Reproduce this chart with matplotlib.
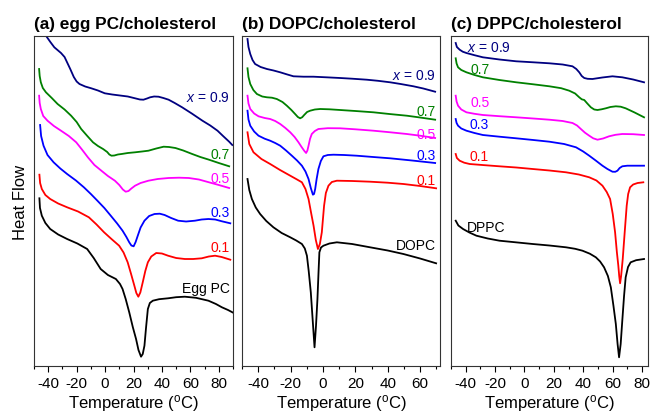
import numpy as np
import matplotlib
matplotlib.use("Agg")
import matplotlib.pyplot as plt
from matplotlib.ticker import MultipleLocator

plt.rcParams['font.family'] = ['Liberation Sans', 'DejaVu Sans']
plt.rcParams['mathtext.fontset'] = 'custom'
plt.rcParams['mathtext.rm'] = 'Liberation Sans'
plt.rcParams['mathtext.it'] = 'Liberation Sans:italic'
plt.rcParams['axes.unicode_minus'] = False

# DSC thermograms, (temperature degC, heat flow arb. units, curves offset)
# (a) egg PC / cholesterol
egg_09 = [(-46, 336), (-43.5, 333), (-41.6, 330.3), (-38.5, 324), (-35.7, 318.7), (-31, 313), (-28.5, 309),
          (-26.5, 303), (-24.5, 297), (-22, 289), (-20, 284.5), (-18, 282), (-14, 279.5), (-9.7, 277.7),
          (-5, 275.5), (-0.2, 272.7), (5, 271.5), (11.6, 270.3), (16, 269.5), (21.1, 267.7), (24.5, 266.5),
          (27, 266.3), (29.5, 267.5), (31.7, 268.7), (34.5, 269.5), (37.6, 269.3), (41, 268), (44.7, 266.3),
          (49, 263), (54.2, 258.7), (61, 252.5), (68.5, 245.3), (74, 240.5), (79.1, 235.3), (83, 230),
          (87.3, 224.3), (89.5, 221)]
egg_07 = [(-46.4, 297), (-46, 290), (-45.2, 283.7), (-43.8, 278), (-41.6, 273.7), (-37.5, 268), (-33.4, 262),
          (-28.5, 256.5), (-23.9, 250.3), (-20, 244), (-16.8, 237), (-12.5, 230), (-8.5, 223.7), (-5, 220),
          (-1.4, 217), (1.5, 214), (3, 211.5), (4.5, 210.3), (6.5, 210.5), (9, 211.5), (11.6, 212), (16, 213),
          (21.1, 213.7), (26, 214.5), (30.5, 215.3), (36, 217.5), (41.2, 219.3), (45, 219), (49.5, 218),
          (55, 215.5), (61.3, 212), (67, 209), (73.1, 206.3), (80, 203), (87.3, 199.7)]
egg_05 = [(-46.4, 270.3), (-46, 263), (-45.2, 257), (-43.5, 250), (-40.5, 245.3), (-36, 240), (-31, 235.3),
          (-25.5, 230), (-20.3, 223.7), (-16, 216), (-12.1, 208.7), (-7.5, 201), (-2.6, 195.3), (2, 190),
          (6.9, 185.3), (10, 181), (12.5, 176.5), (14.5, 174.3), (16.5, 175), (18.5, 177.5), (21.1, 180.3),
          (25, 183), (30.5, 185.3), (37, 187), (44.7, 188), (52, 188.3), (58.9, 188), (66, 186.5),
          (73.1, 183.7), (80, 181), (87.3, 178)]
egg_03 = [(-45.7, 241), (-45, 230), (-43.3, 220.3), (-40.5, 211), (-36.2, 203.7), (-31.5, 197.5), (-26.7, 192),
          (-20.5, 185.5), (-14.9, 178.7), (-10, 172), (-5.4, 165.3), (-0.5, 158), (4.0, 150.3), (8.5, 142.5),
          (12.3, 135.3), (15, 129), (17, 123.7), (18.5, 120.5), (20.1, 119.7), (21.5, 124), (23, 130.3),
          (25, 138.5), (27.7, 145.3), (31, 150), (34.8, 152), (38.5, 152.3), (41.9, 151), (46.5, 148),
          (51.4, 145.3), (57, 144.5), (63.2, 145.3), (68, 146.5), (72.7, 147), (77.5, 146.5), (82.2, 144.7),
          (88.1, 142.7)]
egg_01 = [(-46.2, 191.3), (-45.7, 183), (-44.5, 177), (-42, 171), (-38.6, 167), (-33, 162.5), (-26.7, 158.7),
          (-19, 154.5), (-11.4, 148.7), (-6, 141.5), (-0.7, 133.7), (4.5, 127), (9.9, 120.3), (13, 113.5),
          (15.9, 103.7), (18.3, 92), (20.6, 80.3), (22, 73), (23.4, 69.3), (24.8, 73.5), (26.5, 83.7),
          (28.3, 95), (30.1, 103.7), (32.5, 109.5), (36.0, 113), (40, 112.5), (44.3, 110.3), (50, 108),
          (56.1, 107), (62, 107), (68.0, 107.7), (73, 109.5), (77.4, 110.3), (82, 109), (88.1, 106.3)]
egg_00 = [(-46.2, 167.7), (-45.8, 158), (-44.5, 150.3), (-42, 143), (-38.6, 137), (-33, 131.5), (-26.7, 127),
          (-19.5, 122.5), (-12.6, 117), (-8, 108), (-3.1, 97), (2, 91), (7.6, 87), (10.5, 82), (12.3, 77),
          (14.5, 67), (17, 53.7), (19.5, 39), (21.8, 27), (23.5, 16), (25.3, 9.3), (26.5, 12), (27.7, 20.3),
          (28.8, 38), (30.1, 57), (31.5, 63), (33.6, 65.3), (38, 66.8), (44.3, 67.7), (50, 68.8), (56.1, 69.3),
          (64, 68.2), (72.7, 65.3), (78, 62), (82.2, 58.7), (86.5, 56), (90.5, 53)]

# (b) DOPC / cholesterol
dopc_09 = [(-46.6, 327), (-46, 319), (-44.9, 312), (-43.5, 306), (-41.9, 302), (-38.5, 299), (-34.6, 297),
           (-30.5, 295.5), (-26.4, 293.7), (-22, 291.5), (-18.2, 289.7), (-12, 289.3), (-5.9, 289.3),
           (2, 288.7), (10.6, 288), (18, 287.3), (27.1, 286.3), (34, 285.2), (41.5, 283.7), (48, 282),
           (55.9, 279.7), (62, 277.5), (69.3, 274.3)]
dopc_07 = [(-46.6, 297.7), (-46, 289), (-44.9, 282), (-43, 276), (-40.8, 272), (-37.5, 269.5), (-34.6, 268.7),
           (-31.5, 268.3), (-28.5, 267), (-25, 264), (-22.3, 260.3), (-19.5, 256), (-17.2, 252), (-15.5, 249),
           (-14.1, 247.7), (-12.8, 248.8), (-11.6, 251), (-9.8, 254), (-7.9, 255.3), (-5, 256.5), (-1.7, 257),
           (4, 256.7), (10.6, 256), (20, 255), (31.2, 253.7), (41, 252), (51.8, 250.3), (60, 248.5),
           (69.3, 246.3)]
dopc_05 = [(-46.6, 270.3), (-46, 262.5), (-44.9, 257), (-42.5, 252.5), (-39.8, 249.7), (-36, 248), (-32.6, 247),
           (-29.5, 245), (-26.4, 242), (-23.2, 238), (-20.2, 233.7), (-17.5, 229), (-15.1, 223.7),
           (-13.2, 219), (-11.6, 215.3), (-10.4, 213), (-9.6, 215.5), (-8.9, 220.3), (-8, 227), (-6.9, 232),
           (-5, 235), (-2.8, 237), (3, 237.8), (10.6, 237.7), (20, 236.7), (31.2, 235.3), (41, 233.8),
           (51.8, 232), (60, 230.3), (69.3, 228)]
dopc_03 = [(-46.6, 255.3), (-46, 246.5), (-44.9, 240.3), (-42.5, 234.5), (-39.8, 230.3), (-36, 227.3),
           (-32.6, 225.3), (-29.5, 223), (-26.4, 220.3), (-22.8, 215.5), (-19.2, 210.3), (-16, 205.5),
           (-13.0, 200.3), (-10.8, 194.5), (-8.9, 187), (-7.5, 178), (-6.2, 171.3), (-5.5, 172), (-4.8, 177),
           (-3.9, 187), (-2.8, 197), (-1.3, 205), (0.3, 209.7), (3, 211), (6.5, 211.3), (13, 211),
           (20.9, 210.3), (31, 209), (41.5, 207.7), (55, 205.5), (69.3, 203)]
dopc_01 = [(-46.6, 233.7), (-45.5, 222), (-42.9, 213.7), (-38, 207), (-32.6, 202), (-26.5, 196), (-20.2, 190.3),
           (-16, 186.5), (-13.0, 183.7), (-10.8, 177), (-8.9, 167), (-7.3, 153), (-5.8, 140.3), (-4.4, 126),
           (-3.1, 117), (-1.9, 122), (-0.7, 133.7), (0.7, 160.3), (1.8, 173), (3.4, 180.3), (5.5, 184),
           (8.6, 185.3), (18, 185), (29.1, 184.3), (40, 183.3), (49.7, 182), (60, 180), (69.9, 177.7)]
dopc_00 = [(-46.6, 187), (-45.5, 176), (-43.9, 167), (-41.5, 158.5), (-38.8, 152), (-35, 145), (-30.6, 138.7),
           (-25.5, 133), (-20.2, 128.7), (-16.5, 125.5), (-13.0, 122), (-11.2, 117.5), (-9.9, 110.3),
           (-8.8, 95), (-7.5, 73.7), (-6.3, 45), (-5.2, 18.7), (-4.3, 40), (-3.4, 67), (-2.7, 95),
           (-2.2, 113.7), (-1.2, 118.5), (0.3, 120.3), (4, 122.5), (8.6, 123.7), (18, 122), (29.1, 118.7),
           (40, 115.5), (49.7, 112), (60, 107.5), (69.9, 102.7)]

# (c) DPPC / cholesterol
dppc_09 = [(-46.8, 323), (-46, 319), (-44.1, 316.3), (-42, 314.3), (-39.5, 313), (-34, 310.8), (-28.3, 308.7),
           (-17, 306.5), (-5.6, 304.7), (6, 303.7), (17.0, 302.7), (26, 301.5), (32.7, 299.7), (35.3, 297),
           (37.3, 293.7), (39, 290), (40.7, 288), (43, 287.2), (46.3, 287), (53, 288.5), (59.9, 289.7),
           (66.6, 288.7), (74, 286.5), (81.4, 283.7)]
dppc_07 = [(-46.8, 307.7), (-46.2, 302.5), (-45.2, 298.7), (-43, 296), (-39.5, 293.7), (-34, 291),
           (-28.3, 288.7), (-17, 286), (-5.6, 283.7), (6, 281.7), (17.0, 279.7), (25, 277.8), (30.5, 275.3),
           (34.5, 272.5), (37.3, 268.7), (39, 266.7), (40.7, 266), (42.8, 262.5), (45.2, 258.7), (47.5, 256.5),
           (49.7, 256), (52.5, 256.7), (55.4, 257.7), (58.5, 259), (62.2, 259.7), (65.5, 259.3), (68.9, 257.7),
           (75, 253.5), (81.4, 248.7)]
dppc_05 = [(-46.8, 270.3), (-46.2, 264.5), (-45.2, 260.3), (-43, 256.5), (-39.5, 253.7), (-34, 252.2),
           (-28.3, 251), (-17, 249.8), (-5.6, 248.7), (6, 247.5), (17.0, 246.3), (26, 245), (32.7, 243),
           (35.8, 240.5), (38.4, 237), (41.2, 233.3), (44.1, 230.3), (46.8, 227.7), (49.7, 226.3),
           (53.5, 227.5), (57.6, 229.7), (62, 231.2), (66.6, 232), (74, 231.8), (81.4, 231)]
dppc_03 = [(-46.8, 247), (-46.2, 243), (-45.2, 240.3), (-43, 237.5), (-39.5, 235.3), (-34, 233), (-28.3, 231),
           (-17, 229.3), (-5.6, 227.7), (6, 226), (17.0, 224.3), (27, 222), (35.1, 218.7), (40, 214.5),
           (44.1, 210.3), (48.5, 205.5), (53.1, 200.3), (56.5, 197), (59.9, 194.3), (61.8, 194.2),
           (63.3, 195.3), (64.8, 198), (66.6, 199.7), (70, 200.3), (73.4, 200.3), (81.4, 200.3)]
dppc_01 = [(-46.8, 212), (-46, 208), (-44.1, 205.3), (-41, 203.3), (-37.3, 202), (-27, 200.8), (-17.0, 199.7),
           (-5.5, 198.5), (5.6, 197), (17, 195.5), (28.3, 193.7), (37, 191.5), (44.1, 188.7), (49, 185.5),
           (53.1, 180.3), (56, 174), (58.3, 167), (60.1, 152), (61.7, 133.7), (62.9, 114), (63.9, 100.3),
           (64.5, 90), (65.1, 82.7), (65.8, 90), (66.9, 107), (68.2, 133), (69.6, 160.3), (70.6, 172),
           (71.9, 178.7), (74, 181.5), (77, 183), (80.9, 183.7)]
dppc_00 = [(-46.8, 145.3), (-45, 140.5), (-41.8, 137), (-37.5, 133.5), (-32.7, 130.3), (-25, 127.5),
           (-17.0, 125.3), (-6, 123.7), (5.6, 122), (17, 120.5), (28.3, 118.7), (34.5, 117.2), (39.5, 115.3),
           (44.5, 112.3), (48.6, 108.7), (51.5, 104.5), (54.2, 98.7), (56.8, 90), (58.8, 78.7), (60.6, 60),
           (62.2, 42), (63.4, 22), (64.4, 8.7), (65.5, 22), (66.6, 45.3), (67.8, 70), (68.9, 88.7),
           (70.5, 99), (72.3, 103.7), (76, 105.8), (81.4, 107)]

colors = ['#000080', '#008000', '#ff00ff', '#0000ff', '#ff0000', '#000000']
comp_labels = ['$x$ = 0.9', '0.7', '0.5', '0.3', '0.1']

panels = [
    dict(title='(a) egg PC/cholesterol', curves=[egg_09, egg_07, egg_05, egg_03, egg_01, egg_00],
         names=comp_labels + ['Egg PC'], xlim=(-50, 90), xmax_tick=80,
         lab_x=[87.8] * 6, lab_y=[269, 212, 188, 154, 119, 78], ha='right'),
    dict(title='(b) DOPC/cholesterol', curves=[dopc_09, dopc_07, dopc_05, dopc_03, dopc_01, dopc_00],
         names=comp_labels + ['DOPC'], xlim=(-50, 72.3), xmax_tick=60,
         lab_x=[69.9] * 6, lab_y=[291, 255, 232, 211, 186, 121], ha='right'),
    dict(title='(c) DPPC/cholesterol', curves=[dppc_09, dppc_07, dppc_05, dppc_03, dppc_01, dppc_00],
         names=comp_labels + ['DPPC'], xlim=(-50, 84.1), xmax_tick=80,
         lab_x=[-39.3, -36.6, -36.6, -37.3, -37.3, -39.3], lab_y=[319, 297, 264, 242, 210, 139], ha='left'),
]

fig = plt.figure(figsize=(6.51, 4.14), dpi=100)
lefts = [34, 242, 451]
widths = [199, 198, 197]

for i, p in enumerate(panels):
    ax = fig.add_axes([lefts[i] / 651, 47 / 414, widths[i] / 651, 330 / 414])
    for curve, c in zip(p['curves'], colors):
        t, h = zip(*curve)
        ax.plot(t, h, color=c, lw=1.3, solid_joinstyle='round')
    for name, c, lx, ly in zip(p['names'], colors, p['lab_x'], p['lab_y']):
        ax.text(lx, ly, name, color=c, fontsize=10, ha=p['ha'], va='center')
    ax.set_xlim(*p['xlim'])
    ax.set_ylim(0, 330)
    ax.set_xticks(np.arange(-40, p['xmax_tick'] + 1, 20))
    ax.xaxis.set_minor_locator(MultipleLocator(10))
    ax.tick_params(axis='x', which='major', direction='out', length=4, width=0.8, labelsize=11, pad=3)
    ax.tick_params(axis='x', which='minor', direction='out', length=2.5, width=0.8)
    ax.set_yticks([])
    for s in ax.spines.values():
        s.set_linewidth(0.8)
        s.set_color('#333333')
    ax.set_xlabel('Temperature ($\\mathregular{^o}$C)', fontsize=12, labelpad=2)
    ax.set_title(p['title'], fontsize=12.4, fontweight='bold', loc='left', pad=6)
    if i == 0:
        ax.set_ylabel('Heat Flow', fontsize=12, labelpad=4)

fig.savefig('out.png', dpi=100)
